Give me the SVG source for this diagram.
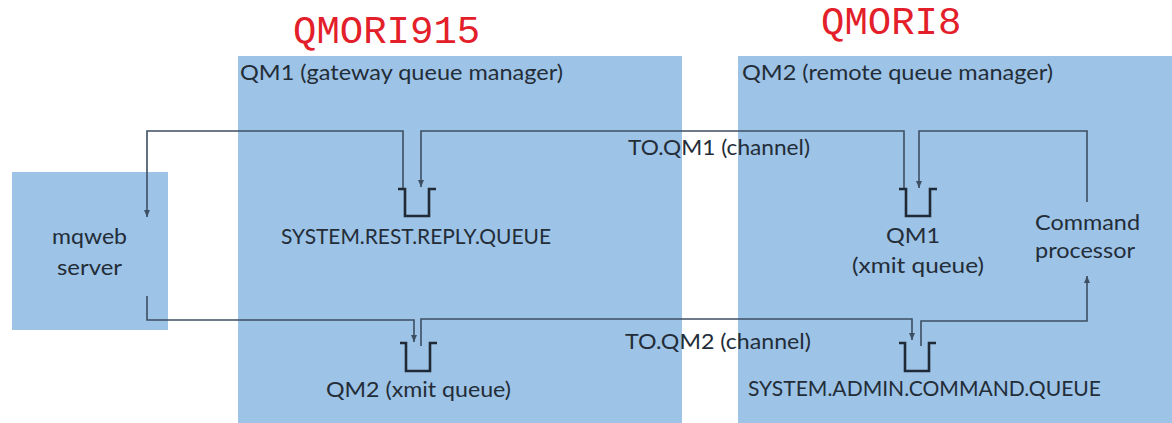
<svg xmlns="http://www.w3.org/2000/svg" width="1172" height="423" viewBox="0 0 1172 423">
  <style>
    .box { fill: #9dc3e6; }
    .lbl { font-family: Lato, "Open Sans", "Liberation Sans", sans-serif; font-size: 21.5px; fill: #232d38; }
    .title { font-family: "Liberation Mono", "DejaVu Sans Mono", monospace; font-size: 39px; fill: #e3202a; }
    .conn { fill: none; stroke: #3d4f63; stroke-width: 1.6; }
    .queue { fill: none; stroke: #1f2a36; stroke-width: 2.6; stroke-linejoin: miter; }
  </style>
  <defs>
    <marker id="arr" markerUnits="userSpaceOnUse" markerWidth="8" markerHeight="8" refX="7" refY="4" orient="auto">
      <path d="M0,1 L7,4 L0,7 Z" fill="#3d4f63"/>
    </marker>
  </defs>
  <rect width="1172" height="423" fill="#ffffff"/>

  <g id="title-qmori915"><text class="title" x="293" y="43">QMORI915</text></g>
  <g id="title-qmori8"><text class="title" x="821" y="34">QMORI8</text></g>

  <g id="node-mqweb">
    <rect class="box" x="12" y="172" width="156" height="158"/>
    <text class="lbl" x="52" y="244" textLength="75" lengthAdjust="spacingAndGlyphs">mqweb</text>
    <text class="lbl" x="57" y="275" textLength="65" lengthAdjust="spacingAndGlyphs">server</text>
  </g>

  <g id="node-qm1">
    <rect class="box" x="238" y="56" width="444" height="367"/>
    <text class="lbl" x="240" y="80" textLength="323" lengthAdjust="spacingAndGlyphs">QM1 (gateway queue manager)</text>
  </g>

  <g id="node-qm2">
    <rect class="box" x="738" y="56" width="434" height="367"/>
    <text class="lbl" x="742" y="80" textLength="311" lengthAdjust="spacingAndGlyphs">QM2 (remote queue manager)</text>
  </g>

  <g id="node-reply-queue">
    <path class="queue" d="M398,189 H405 V216 H429 V189 H436"/>
    <text class="lbl" x="281" y="244" textLength="270" lengthAdjust="spacingAndGlyphs">SYSTEM.REST.REPLY.QUEUE</text>
  </g>

  <g id="node-qm1-xmit">
    <path class="queue" d="M899,189 H906 V216 H930 V189 H937"/>
    <text class="lbl" x="886" y="243" textLength="54" lengthAdjust="spacingAndGlyphs">QM1</text>
    <text class="lbl" x="852" y="273" textLength="132" lengthAdjust="spacingAndGlyphs">(xmit queue)</text>
  </g>

  <g id="node-command-processor">
    <text class="lbl" x="1035" y="230" textLength="105" lengthAdjust="spacingAndGlyphs">Command</text>
    <text class="lbl" x="1035" y="258" textLength="100" lengthAdjust="spacingAndGlyphs">processor</text>
  </g>

  <g id="node-qm2-xmit">
    <path class="queue" d="M400,343 H406 V371 H430 V343 H437"/>
    <text class="lbl" x="326" y="397" textLength="185" lengthAdjust="spacingAndGlyphs">QM2 (xmit queue)</text>
  </g>

  <g id="node-admin-queue">
    <path class="queue" d="M899,343 H905 V371 H929 V343 H936"/>
    <text class="lbl" x="748" y="396" textLength="353" lengthAdjust="spacingAndGlyphs">SYSTEM.ADMIN.COMMAND.QUEUE</text>
  </g>

  <g id="connectors">
    <path class="conn" d="M403,188 V131 H147 V217" marker-end="url(#arr)"/>
    <path class="conn" d="M904,188 V131 H421 V187" marker-end="url(#arr)"/>
    <path class="conn" d="M1087,202 V131 H919 V188" marker-end="url(#arr)"/>
    <path class="conn" d="M147,296 V320 H414 V342" marker-end="url(#arr)"/>
    <path class="conn" d="M421,346 V319 H912 V340" marker-end="url(#arr)"/>
    <path class="conn" d="M921,346 V321 H1087 V276" marker-end="url(#arr)"/>
    <text class="lbl" x="628" y="155" textLength="182" lengthAdjust="spacingAndGlyphs">TO.QM1 (channel)</text>
    <text class="lbl" x="625" y="349" textLength="186" lengthAdjust="spacingAndGlyphs">TO.QM2 (channel)</text>
  </g>
</svg>
